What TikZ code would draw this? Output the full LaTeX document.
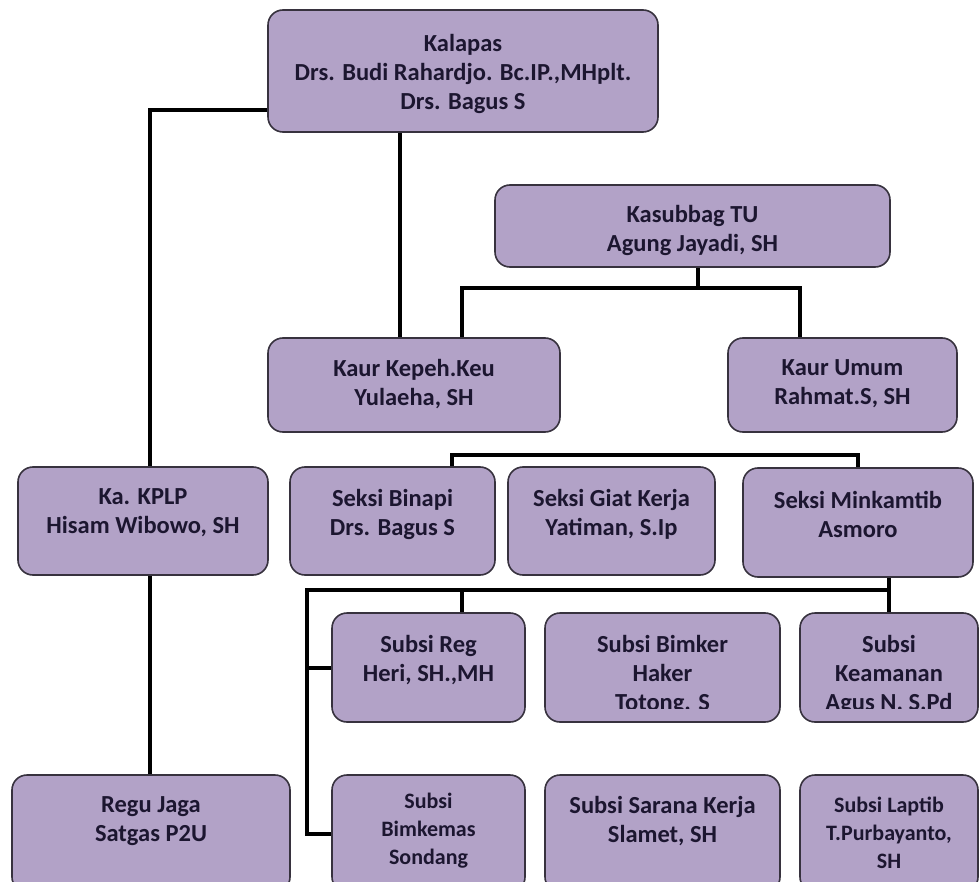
\documentclass[tikz,border=0pt]{standalone}
\usepackage{fontspec}
\setmainfont{Carlito}
\definecolor{boxfill}{RGB}{178,162,199}
\definecolor{boxline}{RGB}{55,50,62}
\definecolor{txtcol}{RGB}{28,22,48}
\pgfdeclarelayer{bg}
\pgfdeclarelayer{paper}
\pgfsetlayers{paper,bg,main}
\tikzset{
  orgbox/.style={draw=boxline, line width=1.6pt, fill=boxfill, rounded corners=15pt, inner sep=0pt},
  txt/.style={text=txtcol, align=center, font=\bfseries\fontsize{24.5}{29}\selectfont, inner sep=0pt},
  txtsmall/.style={text=txtcol, align=center, font=\bfseries\fontsize{22}{28}\selectfont, inner sep=0pt},
  conn/.style={draw=black, line width=4pt, line join=miter}
}
\begin{document}
\begin{tikzpicture}[x=1pt, y=-1pt]
\clip (0,0) rectangle (979,882);
\begin{pgfonlayer}{paper}
\fill[white] (0,0) rectangle (979,882);
\end{pgfonlayer}

% boxes
\node[orgbox, minimum width=390pt, minimum height=122pt] (kal) at (463,71) {};
\node[orgbox, minimum width=395pt, minimum height=82pt] (kas) at (692.5,226) {};
\node[orgbox, minimum width=292pt, minimum height=94pt] (kkeu) at (414,385) {};
\node[orgbox, minimum width=229pt, minimum height=94pt] (kumum) at (842.5,385) {};
\node[orgbox, minimum width=250pt, minimum height=108pt] (kplp) at (143,521) {};
\node[orgbox, minimum width=205pt, minimum height=108pt] (binapi) at (392.5,521) {};
\node[orgbox, minimum width=207pt, minimum height=108pt] (giat) at (611.5,521) {};
\node[orgbox, minimum width=230pt, minimum height=109pt] (mink) at (858,522.5) {};
\node[orgbox, minimum width=193pt, minimum height=109pt] (reg) at (428.5,667.5) {};
\node[orgbox, minimum width=235pt, minimum height=109pt] (bimker) at (662.5,667.5) {};
\node[orgbox, minimum width=178pt, minimum height=109pt] (keam) at (889,667.5) {};
\node[orgbox, minimum width=278pt, minimum height=117pt] (regu) at (151,833.5) {};
\node[orgbox, minimum width=193pt, minimum height=117pt] (bimkemas) at (428.5,833.5) {};
\node[orgbox, minimum width=235pt, minimum height=117pt] (sarana) at (662.5,833.5) {};
\node[orgbox, minimum width=178pt, minimum height=117pt] (laptib) at (889,833.5) {};

% texts
\node[txt] (kalT) at (463,74) {Kalapas\\Drs. Budi Rahardjo. Bc.IP.,MHplt.\\Drs. Bagus S};
\node[txt] (kasT) at (692.5,230) {Kasubbag TU\\Agung Jayadi, SH};
\node[txt] (kkeuT) at (414,384) {Kaur Kepeh.Keu\\Yulaeha, SH};
\node[txt] (kumumT) at (842.5,384) {Kaur Umum\\Rahmat.S, SH};
\node[txt] (kplpT) at (143,513) {Ka. KPLP\\Hisam Wibowo, SH};
\node[txt] (binapiT) at (392.5,514) {Seksi Binapi\\Drs. Bagus S};
\node[txt] (giatT) at (611.5,514) {Seksi Giat Kerja\\Yatiman, S.Ip};
\node[txt] (minkT) at (858,514.5) {Seksi Minkamtib\\Asmoro};
\node[txt] (regT) at (428.5,660) {Subsi Reg\\Heri, SH.,MH};
\begin{scope}
\clip (545,600) rectangle (780,708);
\node[txt] (bimkerT) at (662.5,674.5) {Subsi Bimker\\Haker\\Totong. S};
\end{scope}
\begin{scope}
\clip (800,600) rectangle (978,708);
\node[txt] (keamT) at (889,674.5) {Subsi\\Keamanan\\Agus N. S.Pd};
\end{scope}
\node[txt] (reguT) at (151,821) {Regu Jaga\\Satgas P2U};
\node[txtsmall] (bimkemasT) at (428.5,830.5) {Subsi\\Bimkemas\\Sondang};
\node[txt] (saranaT) at (662.5,821) {Subsi Sarana Kerja\\Slamet, SH};
\node[txtsmall] (laptibT) at (889,832.5) {Subsi Laptib\\T.Purbayanto,\\SH};

% junction points
\coordinate (a1) at (150,110);
\coordinate (b1) at (400,0);
\coordinate (c0) at (698,288);
\coordinate (c1) at (462,288);
\coordinate (c2) at (800,288);
\coordinate (d1) at (452,455);
\coordinate (d2) at (858,455);
\coordinate (e1) at (889,590);
\coordinate (e2) at (307,590);
\coordinate (e3) at (462,590);

\begin{pgfonlayer}{bg}
\draw[conn] (kal.west |- a1) -- (a1) -- (a1 |- kplp.north);
\draw[conn] (a1 |- kplp.south) -- (a1 |- regu.north);
\draw[conn] (b1 |- kal.south) -- (b1 |- kkeu.north);
\draw[conn] (c0 |- kas.south) -- (c0);
\draw[conn] (c1 |- kkeu.north) -- (c1) -- (c2) -- (c2 |- kumum.north);
\draw[conn] (d1 |- binapi.north) -- (d1) -- (d2) -- (d2 |- mink.north);
\draw[conn] (e1 |- mink.south) -- (e1 |- keam.north);
\draw[conn] (e1) -- (e2) -- (e2 |- bimkemas.west) -- (bimkemas.west);
\draw[conn] (e2 |- reg.west) -- (reg.west);
\draw[conn] (e3) -- (e3 |- reg.north);
\end{pgfonlayer}
\end{tikzpicture}
\end{document}
